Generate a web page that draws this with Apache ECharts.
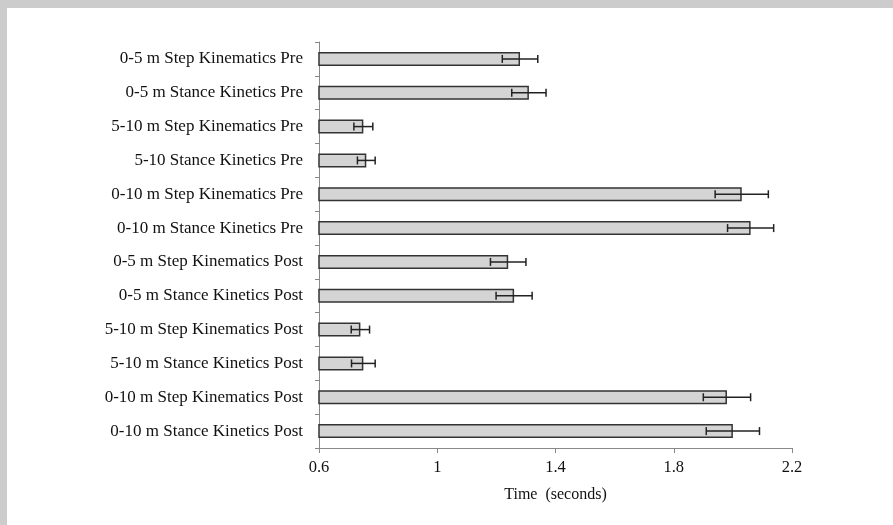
<!DOCTYPE html>
<html>
<head>
<meta charset="utf-8">
<script src="https://cdn.jsdelivr.net/npm/echarts@6/dist/echarts.min.js"></script>
<style>
html,body{margin:0;padding:0;background:#fff;}
#c{width:893px;height:525px;}
</style>
</head>
<body>
<div id="c"></div>
<script>
const categories = [
  '0-5 m Step Kinematics Pre',
  '0-5 m Stance Kinetics Pre',
  '5-10 m Step Kinematics Pre',
  '5-10 Stance Kinetics Pre',
  '0-10 m Step Kinematics Pre',
  '0-10 m Stance Kinetics Pre',
  '0-5 m Step Kinematics Post',
  '0-5 m Stance Kinetics Post',
  '5-10 m Step Kinematics Post',
  '5-10 m Stance Kinetics Post',
  '0-10 m Step Kinematics Post',
  '0-10 m Stance Kinetics Post'
];
const means = [1.28, 1.31, 0.75, 0.76, 2.03, 2.06, 1.24, 1.26, 0.74, 0.75, 1.98, 2.00];
const errors = [0.06, 0.058, 0.032, 0.03, 0.09, 0.078, 0.06, 0.061, 0.031, 0.04, 0.08, 0.09];
const xTicks = [0.6, 1.0, 1.4, 1.8, 2.2];

const errData = means.map((m, i) => [i, m - errors[i], m + errors[i]]);

const chart = echarts.init(document.getElementById('c'));
const serif = 'Liberation Serif, Times New Roman, serif';
chart.setOption({
  animation: false,
  backgroundColor: '#fff',
  graphic: [
    {type: 'rect', shape: {x: 0, y: 0, width: 893, height: 8}, style: {fill: '#cccccc'}, silent: true},
    {type: 'rect', shape: {x: 0, y: 0, width: 7, height: 525}, style: {fill: '#cccccc'}, silent: true}
  ],
  grid: {left: 319, right: 101, top: 42, bottom: 77},
  xAxis: {
    type: 'value',
    min: xTicks[0],
    max: xTicks[xTicks.length - 1],
    interval: 0.4,
    name: 'Time  (seconds)',
    nameLocation: 'middle',
    nameGap: 39,
    nameTextStyle: {fontFamily: serif, fontSize: 16, color: '#111'},
    axisLine: {show: true, lineStyle: {color: '#888', width: 1}},
    axisTick: {show: true, length: 5, lineStyle: {color: '#888'}},
    axisLabel: {fontFamily: serif, fontSize: 16.5, color: '#111', margin: 11,
      formatter: v => String(Math.round(v * 10) / 10)},
    splitLine: {show: false}
  },
  yAxis: {
    type: 'category',
    data: categories,
    inverse: true,
    axisLine: {show: true, lineStyle: {color: '#888', width: 1}},
    axisTick: {show: true, length: 4, alignWithLabel: false, lineStyle: {color: '#888'}},
    axisLabel: {fontFamily: serif, fontSize: 17, color: '#111', margin: 16}
  },
  series: [
    {
      type: 'bar',
      data: means,
      barWidth: 14,
      itemStyle: {color: '#d4d4d4', borderColor: '#333', borderWidth: 1.5},
      z: 2
    },
    {
      type: 'custom',
      data: errData,
      z: 3,
      renderItem: function (params, api) {
        const idx = api.value(0);
        const lo = api.coord([api.value(1), idx]);
        const hi = api.coord([api.value(2), idx]);
        const h = 4;
        const st = {stroke: '#222', lineWidth: 1.5};
        return {
          type: 'group',
          children: [
            {type: 'line', shape: {x1: lo[0], y1: lo[1], x2: hi[0], y2: hi[1]}, style: st},
            {type: 'line', shape: {x1: lo[0], y1: lo[1] - h, x2: lo[0], y2: lo[1] + h}, style: st},
            {type: 'line', shape: {x1: hi[0], y1: hi[1] - h, x2: hi[0], y2: hi[1] + h}, style: st}
          ]
        };
      }
    }
  ]
});
</script>
</body>
</html>
